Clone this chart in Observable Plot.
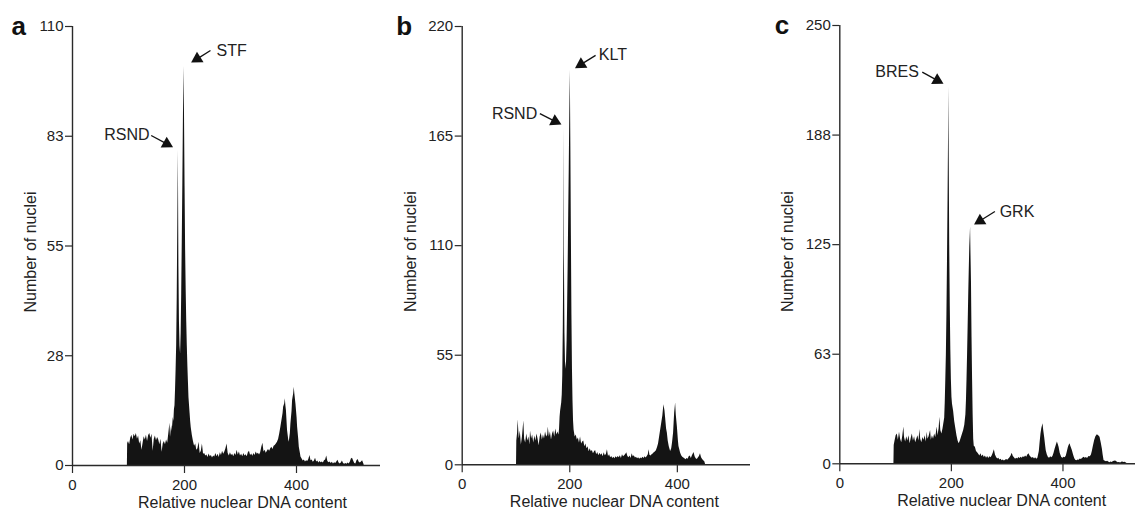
<!DOCTYPE html>
<html><head><meta charset="utf-8">
<script src="https://cdn.jsdelivr.net/npm/d3@7"></script>
<script src="https://cdn.jsdelivr.net/npm/@observablehq/plot@0.6"></script>
<style>
html,body{margin:0;padding:0;background:#fff}
body{width:1135px;height:509px;position:relative;overflow:hidden;font-family:"Liberation Sans",Arial,sans-serif}
.panel{position:absolute;top:0}
</style></head><body>
<div id="pa" class="panel" style="left:0px"></div>
<div id="pb" class="panel" style="left:380px"></div>
<div id="pc" class="panel" style="left:755px"></div>
<script>
// ---- data: [relative nuclear DNA content, number of nuclei] ----
const histA = [[98,0],[98.5,5.5],[100,6],[102,5.2],[104,6.8],[106,7.6],[108,6.4],[110,7.8],[112,7.2],[114,8],[116,6.6],[118,7.4],[120,5.4],[122,6.2],[124,3.8],[126,5.5],[128,7.2],[130,6.4],[132,7.6],[134,6],[136,7.5],[138,8],[140,6.8],[142,7.8],[144,3.6],[146,6.5],[148,7.4],[150,6.2],[152,7],[154,6.4],[156,5.2],[158,6.6],[160,3.3],[162,5.4],[164,6],[166,5.2],[168,6.4],[170,5.6],[172,8],[174,10.6],[175,7],[177,10],[178,8.5],[180,12],[181,11],[182,14],[183,15],[184,19],[185,24],[186,30],[187,42],[188,60],[189,79],[190,50],[191,36],[192,30],[193,28],[194,33],[195,43],[196,56],[197,70],[198,86],[199,100],[200,88],[201,70],[202,54],[203,44],[204,36],[205,30],[206,25],[207,21],[208,17],[209,15],[210,13],[211,11],[212,9.5],[213,8.5],[214,7.5],[216,6],[218,4.8],[220,5.4],[222,3.8],[224,4.2],[226,5.8],[228,3],[230,3.6],[232,5.4],[234,2.8],[236,3],[238,2.4],[240,2.6],[242,2],[244,2.9],[246,2.2],[248,2.5],[250,1.9],[252,2.4],[254,2.1],[256,3],[258,2.2],[260,2.8],[262,2],[264,3.2],[266,2.5],[268,3.6],[270,2.8],[272,3.4],[274,4.2],[276,5.4],[278,3],[280,2.4],[282,3.2],[284,2.5],[286,2.8],[288,2.2],[290,3],[292,2.5],[294,3.8],[296,2.6],[298,3.4],[300,2.4],[302,2.8],[304,2.2],[306,3],[308,2.4],[310,2.7],[312,2.2],[314,3.2],[316,3.6],[318,2.5],[320,2.9],[322,2.3],[324,3],[326,2.5],[328,3.4],[330,2.8],[332,3.1],[334,2.6],[336,3.2],[338,4.6],[340,5.6],[342,3.4],[344,3.8],[346,3.1],[348,3.6],[350,4],[352,3.6],[354,4.2],[356,4.6],[358,4],[360,4.8],[362,5],[364,5.4],[366,5.8],[368,6.5],[370,7.9],[372,9.5],[374,11.3],[376,13],[377,14.6],[379,15.5],[380,16.7],[381,15],[382,13.8],[384,8.8],[386,6.5],[387,5.8],[389,8],[390,10.4],[392,13.5],[393,16.3],[395,18],[396,19.6],[397,18],[399,15.4],[401,12],[402,9.6],[404,6.5],[405,4.6],[407,3],[408,2.1],[410,1.6],[412,1.1],[414,1.4],[416,0.9],[418,1.2],[420,1],[422,1.5],[424,2.5],[426,1.2],[428,1.4],[430,0.8],[432,1.1],[434,1.8],[436,0.9],[438,1.1],[440,0.6],[442,1],[444,0.7],[446,0.9],[448,0.6],[450,1.2],[452,1.4],[454,2.4],[456,1],[458,0.7],[460,0.9],[462,0.5],[464,0.8],[466,0.4],[468,0.7],[470,0.5],[472,0.9],[474,1.3],[476,0.6],[478,0.4],[480,0.6],[482,1.1],[484,0.5],[486,0.3],[488,0.5],[490,0.3],[492,0.6],[494,0.4],[496,0.8],[498,1.6],[500,1.8],[502,1.1],[504,0.5],[506,0.4],[508,1.2],[510,1.5],[512,0.8],[514,0.6],[516,0.9],[518,1.2],[520,0.5],[521,0]];

const histB = [[101,0],[101.5,12],[103,16],[104,22.6],[106,13],[108,17],[110,10],[112,14],[114.6,22],[116,13],[118,11],[120,15.5],[122,12],[124,14],[126,10],[127,17],[129,13],[131,15],[133,11],[135,14.5],[137,12],[139,15.5],[141,13],[143,9.5],[145,14],[147,16],[149,12.5],[151,15],[153,13],[155,16.5],[157,14],[159,15],[160,19],[162,14],[164,16.5],[166,12.5],[168,15.5],[170,17],[172,14],[174,18],[176,15],[178,16.5],[180,15],[181,18],[182,24],[183,27],[184,29],[185,31],[186,35],[187,45],[188,70],[189,110],[189.5,169],[190,105],[191,66],[192,52],[193,48],[194,52],[195,62],[196,80],[197,100],[198,125],[199,148],[200,175],[201,198],[202,160],[203,115],[204,75],[205,48],[206,32],[207,22],[208,17.5],[210,14],[212,15],[214,12.5],[216,13.5],[218,11],[220,14],[222,10.5],[224,11.5],[226,12],[228,9],[230,10.5],[232,8],[234,9],[236,6.5],[238,8],[240,6.5],[242,7.2],[244,5.5],[246,6.6],[248,7.2],[250,5],[252,6.2],[254,4.5],[256,5.8],[258,4.8],[260,5.5],[262,4],[264,6],[266,4.5],[268,5.2],[270,7.5],[272,4.2],[274,5],[276,3.5],[278,4.2],[280,3.2],[282,3.8],[284,3],[286,4],[288,3.4],[290,4.2],[292,3.6],[294,4.6],[296,3.2],[298,5],[300,4],[302,4.6],[304,5.2],[306,6],[308,4.2],[310,3.6],[312,4.4],[314,3.2],[316,5.5],[318,4],[320,4.6],[322,3.4],[324,3.8],[326,3],[328,3.6],[330,2.8],[332,3.4],[334,3],[336,3.8],[338,3.2],[340,4],[342,3.4],[344,4.2],[346,5],[347.5,7.5],[349,4.8],[351,4.4],[353,5],[355,5.4],[357,6],[359,6.4],[361,7],[363,8.5],[365,10.5],[367,14],[369,17.5],[371,21],[373,24.5],[375,30.2],[377,27],[378,24],[380,18],[381.4,15.9],[383,12],[385,9],[387.5,6.7],[389.5,8],[391,11],[393,16],[394,21],[395,26],[396.8,31],[398,25],[400,19.2],[402,12],[403,9.2],[405,7],[406,5.9],[408,4.5],[410,3.8],[412,3.4],[414,3],[416,2.5],[418,3.2],[420,2.8],[422,4],[424,4.4],[426,3.2],[428,4.5],[431,6.2],[433,4],[435,3],[437,2.6],[439,3.4],[441,4.2],[443,5.5],[445,3.6],[447,2.6],[449,2],[451,1.5],[452.6,0]];

const histC = [[97,0],[97.5,10.5],[99,13],[101,16],[103,17],[105,13.5],[107,18],[109,14],[111,12],[113,16],[114.8,21],[116,15],[118,12.5],[120,15.5],[122,13],[124,16],[126,11.5],[128,14.5],[130,17],[132,13],[134,15.5],[136,12],[138,14],[140,16],[142,13],[143.5,19.5],[145,14],[147,12],[149,15],[151,13.5],[153,16],[155,12.5],[156.7,18],[158,14],[160,15.5],[162.7,19],[164,13.5],[166,16],[168,14],[170,17],[172,15],[174.6,21],[176,16],[178,20],[179.4,26.6],[181,19],[183,17],[185,20],[186,22],[188,26],[189,35],[190,48],[191,62],[192,85],[193,115],[194,150],[195,190],[195.5,215],[196,180],[197,125],[198,90],[199,65],[200,48],[201,38],[202,34],[203,32],[204,30],[205,27],[206,24],[208,20],[210,16],[212,13],[214,11.4],[216,13],[218,15],[220,17],[222,19],[224,22],[226,28],[227,36],[228,48],[229,62],[230,78],[231,95],[232,110],[233,124],[234.4,135],[235,122],[236,104],[237,72],[238,48],[239,28],[240,14],[241,10],[243,9.5],[245,7],[247,6.3],[249,5.5],[251,4.5],[253,5.7],[255,4],[257,5],[259,3.6],[261,4.5],[263,3.2],[265,4.2],[267,3],[269,4],[271,3.4],[273,4.5],[275,6],[277,8],[279,5],[281,3.6],[283,2.8],[285,3.2],[287,2.2],[289,2.6],[291,1.8],[293,2.2],[295,1.6],[297,2],[299,2.4],[301,2],[303,2.8],[305,3.4],[307,4.4],[309,6],[311,4.2],[313,3.4],[315,2.6],[317,3.2],[319,2.8],[321,3.6],[323,3],[325,3.8],[327,3.2],[329,4],[331,3.6],[333,4.4],[335,3.8],[337,5],[339,5.7],[341,4.4],[343,3.8],[345,3.2],[347,3.6],[349,2.8],[351,3.4],[353,2.6],[355,3.2],[357.6,7],[359,12],[360.6,17],[362,20],[364.2,22.8],[365.5,19],[367.2,15],[369,10],[370,7.5],[372,5],[374,3.6],[376,3.2],[378,4],[380,3.4],[382,4.2],[384,6],[386,8.5],[387,9.5],[388.5,11],[390,12.4],[391.5,11],[393,9.5],[395,6],[397.8,3.6],[400,3.2],[402,3.8],[404,3.4],[406,4.5],[408,7],[409.8,9.5],[411,10.5],[412.6,11.4],[414,10],[416.8,7.6],[419,5],[421,3],[422.8,2],[425,1.8],[427,2.2],[429,2],[431,2.8],[433,2.4],[435,3],[437.7,3.8],[440,3.2],[442,3.6],[444,3],[446.7,4.2],[449,4],[451,5],[452.6,7],[454.5,10],[456.8,13.3],[459,15.5],[461.6,16.5],[464,16],[466.4,15.2],[468.5,12],[470.6,8.5],[472,5],[473.6,1.9],[476,1.5],[478,1.2],[480,1.5],[482,1],[484,0.6],[486,1],[488,0.8],[490,1.2],[492,1.4],[494.5,1.6],[497,1],[499,0.6],[501,0.8],[503.5,0.5],[505,0.9],[507,1],[509,0.7],[511,0.9],[513,0.6],[515.4,0]];

// tick values
const xTicks = [0, 200, 400];
const yTicksA = [0, 27.5, 55, 82.5, 110];
const yTicksB = [0, 55, 110, 165, 220];
const yTicksC = [0, 62.5, 125, 187.5, 250];

// peak annotations (data coordinates): label, text anchor point, leader start, arrow head, head angle
const annA = [
  {label:"RSND", tx:137.5, ty:81.6, anchor:"end",   lx:140.5, ly:82.7,  hx:168.4, hy:80.6,  rot:119},
  {label:"STF",  tx:257.1, ty:102.7, anchor:"start", lx:246.4, ly:104.0, hx:222.7, hy:101.9, rot:238}
];
const annB = [
  {label:"RSND", tx:139.5, ty:173.8, anchor:"end",   lx:144.4, ly:176.3, hx:172.7, hy:172.4, rot:117},
  {label:"KLT",  tx:254.1, ty:203.0, anchor:"start", lx:248.0, ly:205.5, hx:221.0, hy:201.0, rot:238}
];
const annC = [
  {label:"BRES", tx:141.7, ty:220.5, anchor:"end",   lx:147.8, ly:223.4, hx:174.7, hy:218.7, rot:119},
  {label:"GRK",  tx:286.5, ty:140.7, anchor:"start", lx:278.0, ly:143.9, hx:251.5, hy:138.6, rot:238}
];

const FONT = "Liberation Sans, Arial, Helvetica, sans-serif";
const INK = "#141414";

const panels = [
  {el:"pa", letter:"a", data:histA, yMax:110, yTicks:yTicksA, xMax:550, ann:annA,
   width:380, mL:72, mT:26, mB:44, letterDx:-61, yLabDx:-37, yLabDy:6, xLabDx:16},
  {el:"pb", letter:"b", data:histB, yMax:220, yTicks:yTicksB, xMax:536, ann:annB,
   width:370, mL:81.7, mT:26, mB:44.7, letterDx:-66, yLabDx:-46.7, yLabDy:6, xLabDx:8},
  {el:"pc", letter:"c", data:histC, yMax:250, yTicks:yTicksC, xMax:530, ann:annC,
   width:380, mL:84.3, mT:25, mB:45.7, letterDx:-65, yLabDx:-47.3, yLabDy:7, xLabDx:14}
];

for (const p of panels) {
  const chart = Plot.plot({
    width: p.width, height: 509,
    marginLeft: p.mL, marginRight: 0, marginTop: p.mT, marginBottom: p.mB,
    style: {fontFamily: FONT, fontSize: "15px", color: "#222", background: "white", overflow: "visible"},
    x: {domain: [0, p.xMax]},
    y: {domain: [0, p.yMax]},
    marks: [
      Plot.areaY(p.data, {x: d => d[0], y: d => d[1], fill: INK, curve: "linear"}),
      Plot.ruleY([0], {stroke: "#2a2a2a", strokeWidth: 1.4}),
      Plot.ruleX([0], {stroke: "#2a2a2a", strokeWidth: 1.4}),
      Plot.axisY({ticks: p.yTicks, tickFormat: d => String(Math.round(d)), tickSize: 7, tickPadding: 2,
                  label: null, stroke: "#2a2a2a", strokeWidth: 1.2, fontSize: 15}),
      Plot.axisX({ticks: xTicks, tickFormat: d => String(d), tickSize: 8, tickPadding: 6,
                  label: null, stroke: "#2a2a2a", strokeWidth: 1.2, fontSize: 15}),
      Plot.text(["Number of nuclei"], {frameAnchor: "left", text: d => d, rotate: -90,
                  textAnchor: "middle", lineAnchor: "bottom", dx: p.yLabDx, dy: p.yLabDy, fontSize: 16, fill: "#222"}),
      Plot.text(["Relative nuclear DNA content"], {frameAnchor: "bottom", text: d => d,
                  textAnchor: "middle", lineAnchor: "bottom", dx: p.xLabDx, dy: 42, fontSize: 16, fill: "#222"}),
      Plot.text([p.letter], {frameAnchor: "top-left", text: d => d, textAnchor: "start", lineAnchor: "bottom",
                  dx: p.letterDx, dy: 8, fontSize: 26, fontWeight: "bold", fill: "#111"}),
      Plot.link(p.ann, {x1: "lx", y1: "ly", x2: "hx", y2: "hy", stroke: "#111", strokeWidth: 1.3}),
      Plot.dot(p.ann, {x: "hx", y: "hy", symbol: "triangle", r: 4.6, fill: "#111", stroke: "none", rotate: "rot"}),
      Plot.text(p.ann.filter(d => d.anchor === "end"), {x: "tx", y: "ty", text: "label", textAnchor: "end",
                  lineAnchor: "bottom", fontSize: 16, fill: "#222"}),
      Plot.text(p.ann.filter(d => d.anchor === "start"), {x: "tx", y: "ty", text: "label", textAnchor: "start",
                  lineAnchor: "bottom", fontSize: 16, fill: "#222"})
    ]
  });
  document.getElementById(p.el).appendChild(chart);
}
</script>
</body></html>
